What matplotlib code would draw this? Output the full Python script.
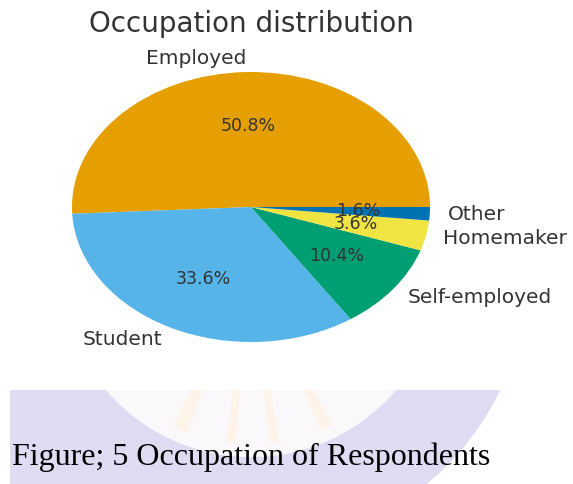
import matplotlib
matplotlib.use("Agg")
import matplotlib.pyplot as plt
from matplotlib.patches import Circle, Rectangle, Wedge

categories = ["Employed", "Student", "Self-employed", "Homemaker", "Other"]
shares = [50.8, 33.6, 10.4, 3.6, 1.6]
colors = ["#E69F00", "#56B4E9", "#009E73", "#F0E442", "#0072B2"]
title = "Occupation distribution"
caption = "Figure; 5 Occupation of Respondents"

W, H = 573, 484
fig = plt.figure(figsize=(W / 100, H / 100), dpi=100)
fig.patch.set_facecolor("white")

# background (watermark) axes in pixel coordinates
bg = fig.add_axes([0, 0, 1, 1])
bg.set_xlim(0, W)
bg.set_ylim(H, 0)
bg.axis("off")
lav = "#DDDCF2"
bg.add_patch(Circle((253, 272), 274, facecolor=lav, edgecolor="none", zorder=1))
bg.add_patch(Rectangle((10, 380), 243, 120, facecolor=lav, edgecolor="none", zorder=1))
bg.add_patch(Circle((251, 266), 191, facecolor="#FAF8FB", edgecolor="none", zorder=2))
for a0, a1 in [(63, 67), (81, 84), (95, 98), (111, 116)]:
    bg.add_patch(Wedge((251, 266), 178, a0, a1, width=95, facecolor="#FDF3E9",
                       edgecolor="none", zorder=3))
# cover everything outside the visible watermark band
bg.add_patch(Rectangle((-10, -10), W + 20, 400, facecolor="white", edgecolor="none", zorder=5))
bg.add_patch(Rectangle((-10, -10), 20, H + 20, facecolor="white", edgecolor="none", zorder=5))

# pie axes (stretched into an ellipse)
ax = fig.add_axes([72 / W, 1 - 342 / H, 358 / W, 270 / H])
wedges, texts, autotexts = ax.pie(
    shares, labels=categories, colors=colors, autopct="%1.1f%%",
    startangle=0, counterclock=True, labeldistance=1.1, pctdistance=0.6,
    textprops=dict(color="#333333", fontsize=12.5, family="DejaVu Sans"),
)
ax.set_aspect("auto")
ax.set_xlim(-1, 1)
ax.set_ylim(-1, 1)
for t in texts:
    t.set_fontsize(14.5)
    t.set_clip_on(False)
for t in autotexts:
    t.set_clip_on(False)
ax.set_title(title, fontsize=20, color="#333333", pad=29)

fig.text(12 / W, 1 - 465 / H, caption, family="Liberation Serif",
         fontsize=23, color="black", ha="left", va="baseline")

fig.savefig("out.png", dpi=100)
